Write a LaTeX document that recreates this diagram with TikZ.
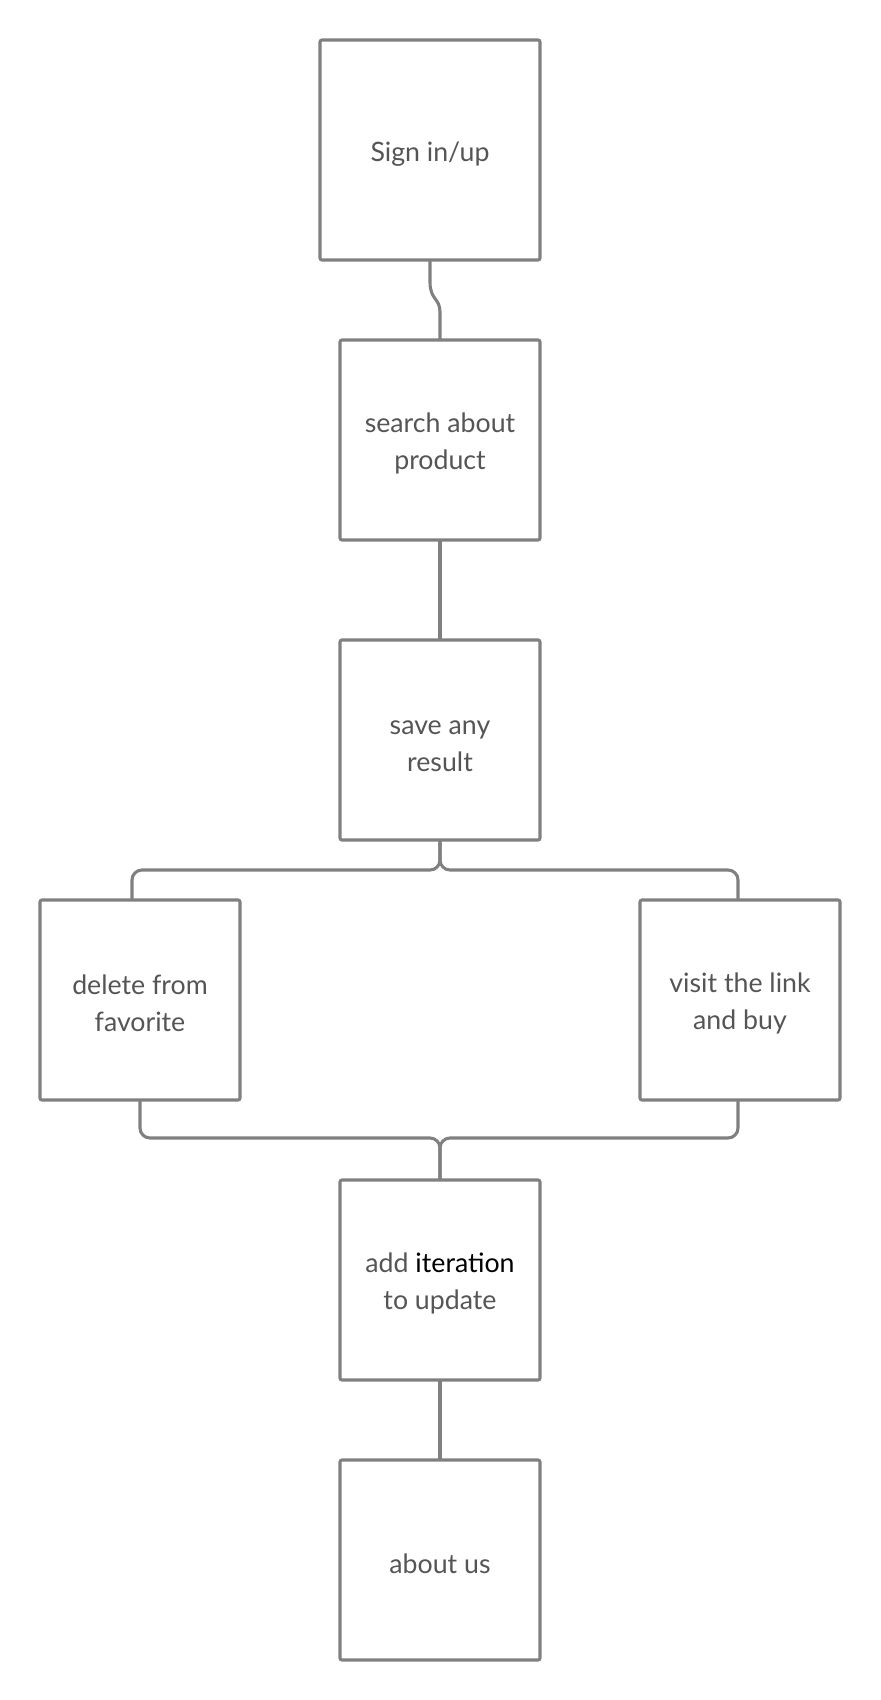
\documentclass[tikz,border=0pt]{standalone}
\usepackage{fontspec}
\setmainfont{Lato}
\usepackage{xcolor}
\usepackage{tikz}
\usetikzlibrary{positioning}
\definecolor{BoxLine}{HTML}{808080}
\definecolor{BoxText}{HTML}{555555}
\tikzset{
    stepbox/.style={
        rectangle,
        rounded corners=0.5mm,
        minimum height=5cm,
        minimum width=5cm,
        align=center,
        draw=BoxLine,
        text=BoxText,
        line width=2.2pt,
        outer sep=0pt,
        font=\fontsize{19}{26.5}\selectfont
    },
    oneline/.style={stepbox, text height=19.5pt},
    twoline/.style={stepbox, text height=45.5pt},
    link/.style={draw=BoxLine, line width=2.2pt},
    branchlink/.style={link, rounded corners=0.25cm}
}
\begin{document}
\begin{tikzpicture}

\useasboundingbox (0,0) rectangle (22,-42.5);

% Sign in
\node[oneline, minimum width=5.5cm, minimum height=5.5cm] (signin) at (10.75,-3.75) {Sign in/up};

% Search
\node[twoline, below=2cm of signin, xshift=0.25cm] (search) {search about\\product};

% Save
\node[twoline, below=2.5cm of search] (save) {save any\\result};

% Branches
\node[twoline, below left=1.5cm and 2.5cm of save] (delete) {delete from\\favorite};
\node[twoline, below right=1.5cm and 2.5cm of save] (visit) {visit the link\\and buy};

% Update
\node[twoline, below=8.5cm of save] (update) {add \textcolor{black}{iteration}\\to update};

% About
\node[oneline, below=2cm of update] (about) {about us};

% Connectors
\draw[link] (signin.south) -- ++(0,-0.55) .. controls +(0,-0.45) and +(0,0.35) .. ([yshift=0.7cm]search.north) -- (search.north);
\draw[link] (search) -- (save);
\draw[branchlink] (save.south) -- ++(0,-0.75) -| ([xshift=-0.2cm]delete.north);
\draw[branchlink] (save.south) -- ++(0,-0.75) -| ([xshift=-0.05cm]visit.north);
\draw[branchlink] (delete.south) -- ++(0,-0.95) -| (update.north);
\draw[branchlink] ([xshift=-0.05cm]visit.south) -- ++(0,-0.95) -| (update.north);
\draw[link] (update) -- (about);

\end{tikzpicture}
\end{document}
